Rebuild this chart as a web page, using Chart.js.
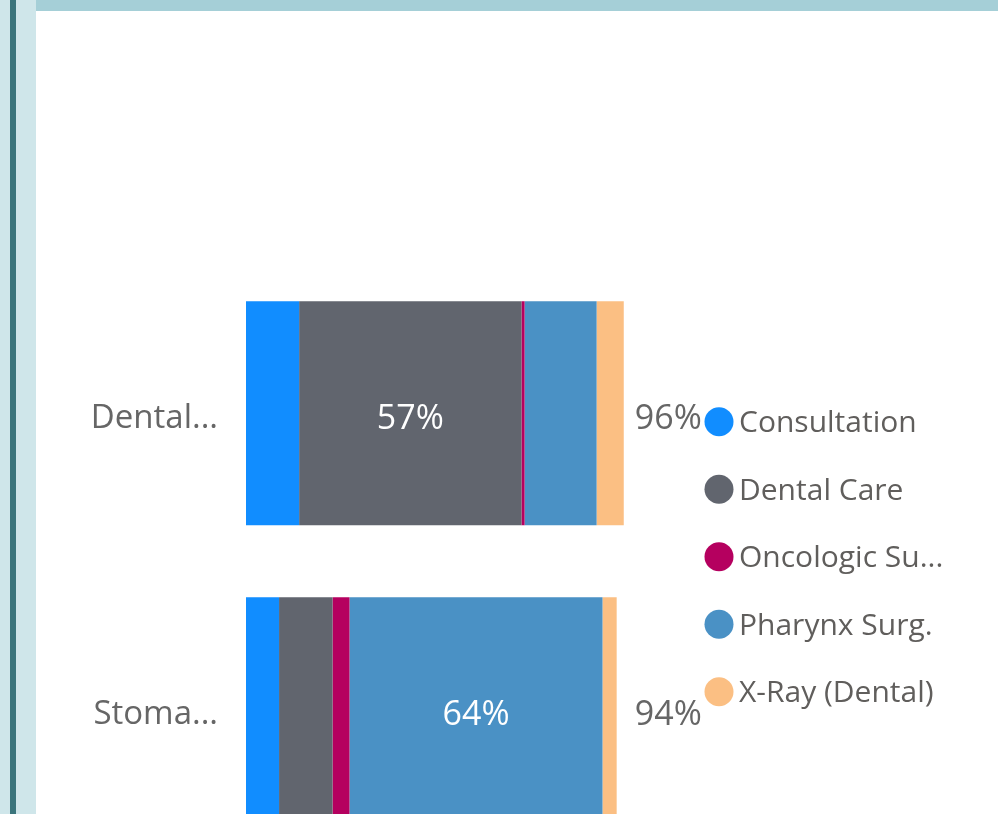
<!DOCTYPE html>
<html>
<head>
<meta charset="utf-8">
<script src="https://cdn.jsdelivr.net/npm/chart.js@4.4.1/dist/chart.umd.min.js"></script>
<style>
  html, body { margin: 0; padding: 0; background: #ffffff; overflow: hidden; width: 998px; height: 814px; }
  #s1 { position: absolute; left: 0; top: 0; width: 10px; height: 814px; background: #cfe6ea; }
  #s2 { position: absolute; left: 10px; top: 0; width: 6px; height: 814px; background: #3b757c; }
  #s3 { position: absolute; left: 16px; top: 0; width: 20px; height: 814px; background: #cfe6ea; }
  #topband { position: absolute; left: 36px; top: 0; width: 962px; height: 11px; background: #a5cfd7; }
  #wrap { position: absolute; left: 36px; top: 10px; width: 962px; height: 1100px; }
</style>
</head>
<body>
<div id="s1"></div><div id="s2"></div><div id="s3"></div><div id="topband"></div>
<div id="wrap"><canvas id="c"></canvas></div>
<script>
const categories = ['Dental...', 'Stoma...'];
const seriesNames = ['Consultation', 'Dental Care', 'Oncologic Su...', 'Pharynx Surg.', 'X-Ray (Dental)'];
const seriesColors = ['#118DFF', '#61656E', '#B5005F', '#4A91C5', '#FBBF83'];
const consultation = [13.5, 8.4];
const dentalCare = [56.5, 13.6];
const oncologic = [0.8, 4.3];
const pharynx = [18.3, 64.3];
const xray = [6.9, 3.6];
const seriesValues = [consultation, dentalCare, oncologic, pharynx, xray];

const FONT = "'Open Sans', 'Noto Sans', sans-serif";

const labelPlugin = {
  id: 'labels',
  afterDatasetsDraw(chart) {
    const ctx = chart.ctx;
    ctx.save();
    ctx.font = '34px ' + FONT;
    ctx.textBaseline = 'middle';
    const lastMeta = chart.getDatasetMeta(seriesValues.length - 1);
    const totalX = Math.max(...lastMeta.data.map(e => e.x)) + 11;
    categories.forEach((cat, i) => {
      let best = 0, total = 0;
      seriesValues.forEach((arr, d) => { total += arr[i]; if (arr[i] > seriesValues[best][i]) best = d; });
      const el = chart.getDatasetMeta(best).data[i];
      ctx.fillStyle = '#ffffff';
      ctx.textAlign = 'center';
      ctx.fillText(Math.round(seriesValues[best][i]) + '%', (el.x + el.base) / 2, el.y + 6);
      ctx.fillStyle = '#666666';
      ctx.textAlign = 'left';
      ctx.fillText(Math.round(total) + '%', totalX, lastMeta.data[i].y + 6);
    });
    ctx.restore();
  }
};

const legendPlugin = {
  id: 'customLegend',
  afterDraw(chart) {
    const ctx = chart.ctx;
    ctx.save();
    ctx.font = '30px ' + FONT;
    ctx.textBaseline = 'middle';
    ctx.textAlign = 'left';
    const cx = 683, x0 = 703, y0 = 411.7, step = 67.5;
    seriesNames.forEach((name, k) => {
      const y = y0 + k * step;
      ctx.beginPath();
      ctx.arc(cx, y, 14.5, 0, Math.PI * 2);
      ctx.fillStyle = seriesColors[k];
      ctx.fill();
      ctx.fillStyle = '#605E5C';
      ctx.fillText(name, x0, y + 2);
    });
    ctx.restore();
  }
};

new Chart(document.getElementById('c'), {
  type: 'bar',
  data: {
    labels: categories,
    datasets: seriesNames.map((n, k) => ({
      label: n,
      data: seriesValues[k],
      backgroundColor: seriesColors[k],
      borderWidth: 0,
      categoryPercentage: 1,
      barPercentage: 0.757
    }))
  },
  options: {
    indexAxis: 'y',
    responsive: true,
    maintainAspectRatio: false,
    animation: false,
    events: [],
    layout: { padding: { top: 255.3, bottom: 252.7, left: 0, right: 358.5 } },
    plugins: { legend: { display: false }, tooltip: { enabled: false } },
    scales: {
      x: { stacked: true, min: 0, max: 100, display: false },
      y: {
        stacked: true,
        grid: { display: false },
        border: { display: false },
        ticks: { color: '#666666', font: { size: 33, family: FONT }, padding: 20, labelOffset: 5 },
        afterFit(scale) { scale.width = 210; }
      }
    }
  },
  plugins: [labelPlugin, legendPlugin]
});
</script>
</body>
</html>
